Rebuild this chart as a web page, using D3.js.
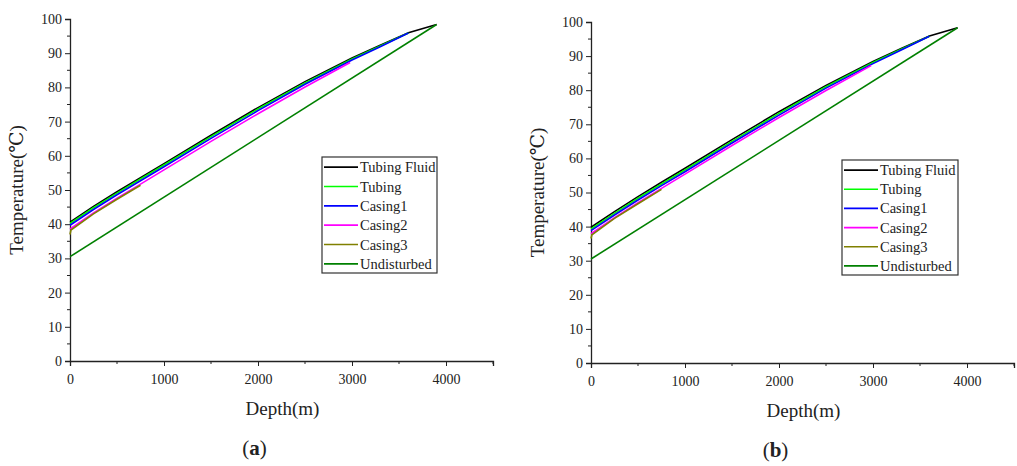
<!DOCTYPE html>
<html><head><meta charset="utf-8">
<script src="https://cdn.jsdelivr.net/npm/d3@7"></script>
<style>body{margin:0;background:#fff}svg{display:block}text{font-family:"Liberation Serif","DejaVu Serif",serif;fill:#222}</style>
</head><body><svg id="c" width="1017" height="466"></svg>
<script>
const seriesNames = ["Tubing Fluid","Tubing","Casing1","Casing2","Casing3","Undisturbed"];
const seriesColors = ["#000000","#00ff00","#0000ff","#ff00ff","#808000","#008000"];
const xTicks = [0,1000,2000,3000,4000];
const yTicks = [0,10,20,30,40,50,60,70,80,90,100];

// Panel (a)
const aFluidDepth = [0,250,500,750,1000,1500,2000,2500,3000,3300,3600,3900];
const aFluidTemp  = [40.6,45.2,49.5,53.6,57.7,66.0,74.1,81.7,88.6,92.3,96.0,98.4];
const aTubingDepth = [0,250,500,750,1000,1500,2000,2500,3000,3300,3600];
const aTubingTemp  = [40.2,44.8,49.1,53.2,57.3,65.6,73.7,81.3,88.3,92.1,95.9];
const aCasing1Depth = [0,250,500,750,1000,1500,2000,2500,3000,3300,3600];
const aCasing1Temp  = [39.7,44.3,48.6,52.7,56.8,65.1,73.2,80.9,88.0,91.9,95.9];
const aCasing2Depth = [0,250,500,750,1000,1500,2000,2500,2980];
const aCasing2Temp  = [38.6,43.3,47.6,51.7,55.9,64.2,72.3,80.1,87.3];
const aCasing3Depth = [0,10,250,500,750];
const aCasing3Temp  = [37.0,38.3,43.0,47.3,51.4];
const aUndistDepth = [0,3900];
const aUndistTemp  = [30.5,98.4];

// Panel (b)
const bFluidDepth = [0,250,500,750,1000,1500,2000,2500,3000,3300,3600,3900];
const bFluidTemp  = [39.8,44.4,48.8,53.0,57.1,65.5,73.7,81.4,88.4,92.2,95.9,98.3];
const bTubingDepth = [0,250,500,750,1000,1500,2000,2500,3000,3300,3600];
const bTubingTemp  = [39.3,43.9,48.3,52.5,56.6,65.0,73.2,81.0,88.1,92.0,95.8];
const bCasing1Depth = [0,250,500,750,1000,1500,2000,2500,3000,3300,3600];
const bCasing1Temp  = [38.8,43.4,47.8,52.0,56.1,64.5,72.7,80.6,87.8,91.8,95.8];
const bCasing2Depth = [0,250,500,750,1000,1500,2000,2500,2980];
const bCasing2Temp  = [37.9,42.6,47.0,51.2,55.4,63.8,72.0,79.9,87.2];
const bCasing3Depth = [0,10,250,500,750];
const bCasing3Temp  = [36.5,37.6,42.4,46.7,50.9];
const bUndistDepth = [0,3900];
const bUndistTemp  = [30.5,98.3];

const panels = [
  {label:"a", x0:70, x1:493, y0:361, y1:19, leg:{x:322,y:157,w:115,h:116},
   series:[[aFluidDepth,aFluidTemp],[aTubingDepth,aTubingTemp],[aCasing1Depth,aCasing1Temp],[aCasing2Depth,aCasing2Temp],[aCasing3Depth,aCasing3Temp],[aUndistDepth,aUndistTemp]]},
  {label:"b", x0:591, x1:1014, y0:363, y1:22, leg:{x:842,y:160,w:116,h:115},
   series:[[bFluidDepth,bFluidTemp],[bTubingDepth,bTubingTemp],[bCasing1Depth,bCasing1Temp],[bCasing2Depth,bCasing2Temp],[bCasing3Depth,bCasing3Temp],[bUndistDepth,bUndistTemp]]}
];

const svg = d3.select("#c");
panels.forEach(p => {
  const x = d3.scaleLinear().domain([0,4500]).range([p.x0,p.x1]);
  const y = d3.scaleLinear().domain([0,100]).range([p.y0,p.y1]);
  const g = svg.append("g");
  const minorX = d3.range(500,4600,1000);
  const minorY = d3.range(5,100,10);
  g.append("g").selectAll("line").data(minorX).join("line")
    .attr("x1",d=>x(d)).attr("x2",d=>x(d)).attr("y1",p.y0).attr("y2",p.y0+3).attr("stroke","#222");
  g.append("g").selectAll("line").data(minorY).join("line")
    .attr("y1",d=>y(d)).attr("y2",d=>y(d)).attr("x1",p.x0).attr("x2",p.x0-3).attr("stroke","#222");
  const xa = g.append("g").attr("transform",`translate(0,${p.y0})`)
    .call(d3.axisBottom(x).tickValues(xTicks.concat([4500])).tickSize(5).tickFormat(d=>d===4500?"":d));
  const ya = g.append("g").attr("transform",`translate(${p.x0},0)`)
    .call(d3.axisLeft(y).tickValues(yTicks).tickSize(5));
  [xa,ya].forEach(a=>{
    a.attr("font-family",null).attr("font-size",null);
    a.select(".domain").attr("stroke","#222").attr("stroke-width",1.3);
    a.selectAll(".tick line").attr("stroke","#222");
    a.selectAll("text").style("font-family","'Liberation Serif', serif").style("font-size","14px").attr("fill","#222");});
  xa.selectAll("text").attr("dy","1.1em");
  const line = d3.line().x(d=>x(d[0])).y(d=>y(d[1]));
  p.series.forEach((s,i)=>{
    const pts = s[0].map((d,j)=>[d,s[1][j]]);
    g.append("path").datum(pts).attr("d",line).attr("fill","none")
      .attr("stroke",seriesColors[i]).attr("stroke-width",1.6);
  });
  g.append("text").attr("x",(p.x0+p.x1)/2+1).attr("y",p.y0+54).attr("text-anchor","middle")
    .style("font-size","19px").text("Depth(m)");
  g.append("text").attr("transform",`translate(${p.x0-47},${(p.y0+p.y1)/2}) rotate(-90)`)
    .attr("text-anchor","middle").style("font-size","19px").text("Temperature(℃)");
  const lab = g.append("text").attr("x",(p.x0+p.x1)/2-27).attr("y",p.y0+94).attr("text-anchor","middle").style("font-size","21px");
  lab.append("tspan").text("(");
  lab.append("tspan").style("font-weight","bold").text(p.label);
  lab.append("tspan").text(")");
  const L = p.leg;
  g.append("rect").attr("x",L.x).attr("y",L.y).attr("width",L.w).attr("height",L.h)
    .attr("fill","#fff").attr("stroke","#333").attr("stroke-width",1.2);
  const step = L.h/6;
  seriesNames.forEach((n,i)=>{
    const cy = L.y + step*(i+0.5)+0.5;
    g.append("line").attr("x1",L.x+2).attr("x2",L.x+36).attr("y1",cy).attr("y2",cy)
      .attr("stroke",seriesColors[i]).attr("stroke-width",1.6);
    g.append("text").attr("x",L.x+38).attr("y",cy).attr("dy","0.35em").style("font-size","14.5px").text(n);
  });
});
</script></body></html>
